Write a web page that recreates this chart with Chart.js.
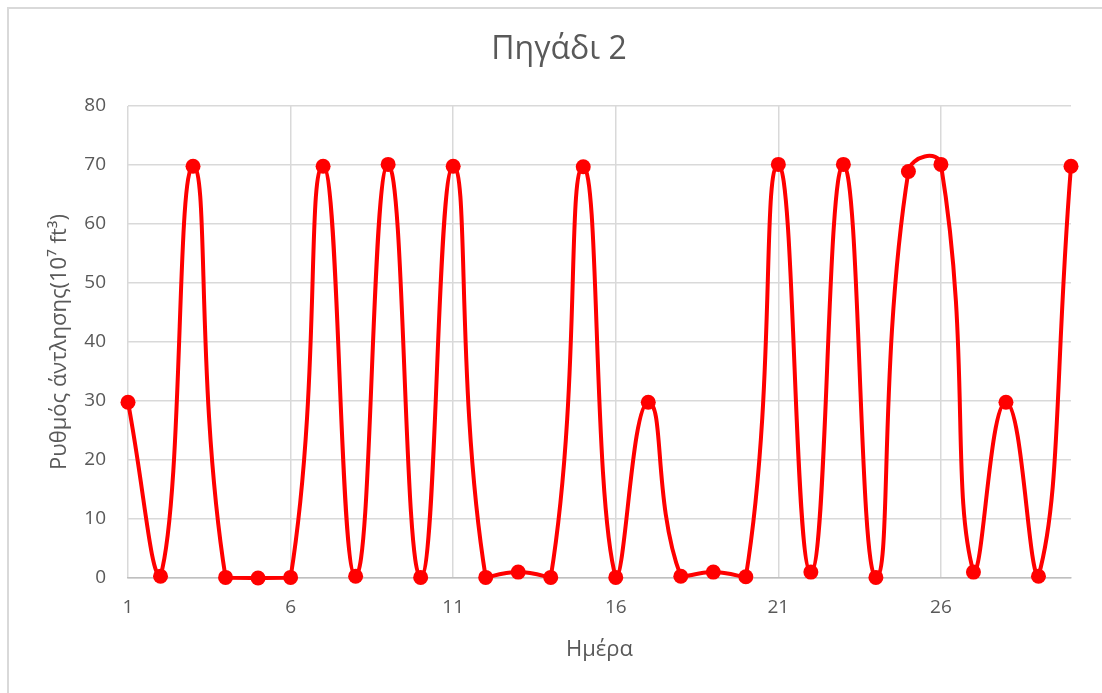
<!DOCTYPE html>
<html>
<head>
<meta charset="utf-8">
<script src="https://cdn.jsdelivr.net/npm/chart.js@4/dist/chart.umd.min.js"></script>
<style>
  html, body { margin: 0; padding: 0; background: #ffffff; }
  #wrap { position: relative; width: 1102px; height: 693px; }
  #frame { position: absolute; left: 7px; top: 7px; width: 1110px; height: 700px;
           border-left: 2px solid #d9d9d9; border-top: 2px solid #d9d9d9; box-sizing: border-box; }
  canvas { position: absolute; left: 0; top: 0; }
</style>
</head>
<body>
<div id="wrap">
  <div id="frame"></div>
  <canvas id="c" width="1102" height="693"></canvas>
</div>
<script>
// Daily pumping rate of well 2 (units of 10^7 ft^3)
const days = [1, 2, 3, 4, 5, 6, 7, 8, 9, 10, 11, 12, 13, 14, 15,
              16, 17, 18, 19, 20, 21, 22, 23, 24, 25, 26, 27, 28, 29, 30];
const pumpingRate = [29.8, 0.3, 69.8, 0.1, 0, 0.1, 69.8, 0.3, 70.1, 0.1,
                     69.8, 0.1, 1.0, 0.1, 69.7, 0.1, 29.8, 0.3, 1.0, 0.2,
                     70.1, 1.0, 70.1, 0.1, 68.9, 70.1, 1.0, 29.8, 0.3, 69.8];
const yTicks = [0, 10, 20, 30, 40, 50, 60, 70, 80];

const FONT = '"Open Sans", "Noto Sans", sans-serif';
const TEXT = '#595959';

new Chart(document.getElementById('c'), {
  type: 'line',
  data: {
    labels: days.map(String),
    datasets: [{
      data: pumpingRate,
      borderColor: '#ff0000',
      backgroundColor: '#ff0000',
      borderWidth: 4,
      pointRadius: 7.5,
      pointHoverRadius: 7.5,
      pointBorderWidth: 0,
      tension: 0.5,
      clip: 10
    }]
  },
  options: {
    responsive: false,
    animation: false,
    layout: { padding: { left: 47, right: 31, top: 0, bottom: 30 } },
    plugins: {
      legend: { display: false },
      tooltip: { enabled: false },
      title: {
        display: true,
        text: 'Πηγάδι 2',
        color: TEXT,
        font: { family: FONT, size: 32, weight: 'normal' },
        padding: { top: 31, bottom: 36.6 }
      }
    },
    scales: {
      x: {
        type: 'category',
        offset: false,
        border: { display: true, color: '#bfbfbf', width: 1.5 },
        grid: {
          drawTicks: false,
          color: ctx => (ctx.index % 5 === 0 ? '#d9d9d9' : 'rgba(0,0,0,0)'),
          lineWidth: 1.5
        },
        ticks: {
          autoSkip: false,
          maxRotation: 0,
          padding: 18,
          color: TEXT,
          font: { family: FONT, size: 19 },
          callback: (v, i) => (i % 5 === 0 ? days[i] : '')
        },
        title: {
          display: true,
          text: 'Ημέρα',
          color: TEXT,
          font: { family: FONT, size: 22 },
          padding: { top: 0, bottom: 0 }
        },
        afterFit: s => { s.height = 85; }
      },
      y: {
        min: 0,
        max: 80,
        border: { display: false },
        grid: { drawTicks: false, color: '#d9d9d9', lineWidth: 1.5 },
        afterBuildTicks: s => { s.ticks = yTicks.map(v => ({ value: v })); },
        ticks: {
          padding: 22,
          color: TEXT,
          font: { family: FONT, size: 19 }
        },
        title: {
          display: true,
          text: 'Ρυθμός άντλησης(10⁷ ft³)',
          color: TEXT,
          font: { family: FONT, size: 22 },
          padding: { top: 0, bottom: 0 }
        },
        afterFit: s => { s.width = 81; }
      }
    }
  }
});
</script>
</body>
</html>
